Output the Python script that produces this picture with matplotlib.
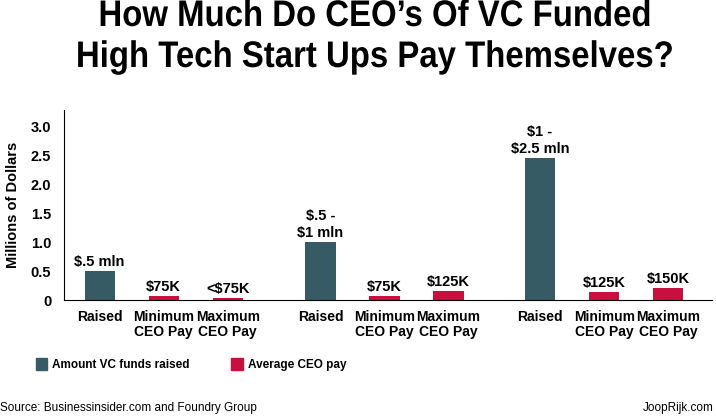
import matplotlib.pyplot as plt
from matplotlib.patches import Patch, PathPatch
from matplotlib.textpath import TextPath
from matplotlib.font_manager import FontProperties
from matplotlib.transforms import Affine2D, IdentityTransform

plt.rcParams['font.family'] = ['Liberation Sans', 'DejaVu Sans']

title_lines = ["How Much Do CEO\u2019s Of VC Funded", "High Tech Start Ups Pay Themselves?"]
categories = ["Raised", "Minimum\nCEO Pay", "Maximum\nCEO Pay",
              "Raised", "Minimum\nCEO Pay", "Maximum\nCEO Pay",
              "Raised", "Minimum\nCEO Pay", "Maximum\nCEO Pay"]
values = [0.5, 0.07, 0.03, 1.0, 0.07, 0.15, 2.45, 0.14, 0.2]
value_labels = ["$.5 mln", "$75K", "<$75K", "$.5 -\n$1 mln", "$75K", "$125K",
                "$1 -\n$2.5 mln", "$125K", "$150K"]
kinds = ["raised", "pay", "pay"] * 3
positions = [0, 1, 2, 3.45, 4.45, 5.45, 6.88, 7.88, 8.88]

teal = "#365B64"
red = "#C8103E"
colors = [teal if k == "raised" else red for k in kinds]

fig = plt.figure(figsize=(7.16, 4.19), dpi=100)
ax = fig.add_axes([0.089, 0.284, 0.905, 0.453])

ax.bar(positions, values, width=0.47, color=colors)
for p, v, lab in zip(positions, values, value_labels):
    ax.text(p, v + 0.04, lab, ha="center", va="bottom", fontsize=10.5,
            fontweight="bold", linespacing=1.3)

ax.set_xlim(-0.56, 9.56)
ax.set_ylim(0, 3.28)
ax.set_yticks([0, 0.5, 1.0, 1.5, 2.0, 2.5, 3.0])
ax.set_yticklabels(["0", "0.5", "1.0", "1.5", "2.0", "2.5", "3.0"],
                   fontsize=10.5, fontweight="bold")
ax.set_xticks(positions)
ax.set_xticklabels(categories, fontsize=10, fontweight="bold", linespacing=1.1)
ax.tick_params(length=0, pad=7)
ax.tick_params(axis="y", pad=9)
ax.spines["top"].set_visible(False)
ax.spines["right"].set_visible(False)
ax.set_ylabel("Millions of Dollars", fontsize=10.5, fontweight="bold", labelpad=8)

# title: bold, slightly condensed like the original
fp = FontProperties(family="Liberation Sans", weight="bold")
H = 419
for line, base in zip(title_lines, [26, 67]):
    tp = TextPath((0, 0), line, size=37, prop=fp)
    ext = tp.get_extents()
    sx = 0.89
    w = ext.width * sx
    tr = Affine2D().scale(sx, 1).translate(375 - w / 2 - ext.x0 * sx, H - base)
    fig.add_artist(PathPatch(tr.transform_path(tp), facecolor="black",
                             edgecolor="none", transform=IdentityTransform()))

handles = [Patch(color=teal, label="Amount VC funds raised"),
           Patch(color=red, label="Average CEO pay")]
fig.legend(handles=handles, loc="center left", bbox_to_anchor=(0.035, 0.13),
           ncol=2, frameon=False, prop={"size": 8.5, "weight": "bold"},
           handlelength=1.0, handleheight=1.2, columnspacing=3.5, handletextpad=0.4)

fig.text(0.0, 0.02, "Source: Businessinsider.com and Foundry Group", fontsize=8.5)
fig.text(0.997, 0.02, "JoopRijk.com", fontsize=8.5, ha="right")

fig.savefig("out.png", dpi=100)
